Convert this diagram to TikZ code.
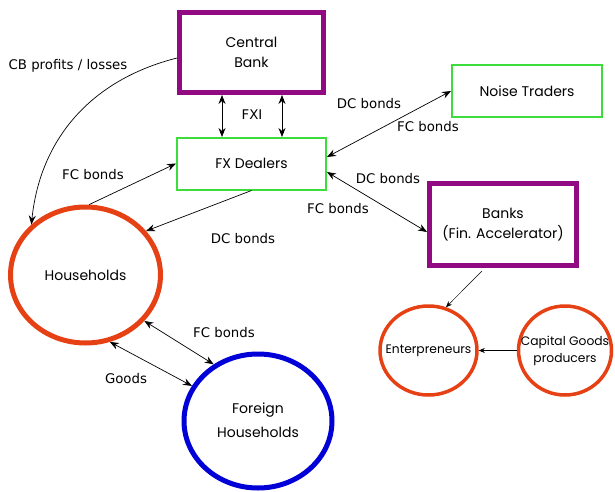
\documentclass[tikz,border=0pt]{standalone}
\usepackage{fontspec}
\setmainfont{DejaVu Sans}
\newfontfamily\nodefont{Poppins}
\usetikzlibrary{arrows.meta,shapes.geometric}
\definecolor{cbpurple}{RGB}{145,10,130}
\definecolor{fxgreen}{RGB}{60,220,60}
\definecolor{hhred}{RGB}{230,65,20}
\definecolor{fhblue}{RGB}{0,0,215}
\tikzset{
  purplebox/.style={draw=cbpurple,line width=5pt,minimum width=144pt,inner sep=0pt,align=center,font=\nodefont\fontsize{14}{20}\selectfont},
  greenbox/.style={draw=fxgreen,line width=2pt,minimum width=149pt,minimum height=52pt,inner sep=0pt,align=center,font=\nodefont\fontsize{14}{20}\selectfont},
  redcirc/.style={ellipse,draw=hhred,line width=5pt,inner sep=0pt,align=center,font=\nodefont\fontsize{14}{20}\selectfont},
  smallcirc/.style={ellipse,draw=hhred,line width=3.5pt,inner sep=0pt,align=center,font=\nodefont\fontsize{12.3}{17}\selectfont},
  bluecirc/.style={ellipse,draw=fhblue,line width=5pt,inner sep=0pt,align=center,font=\nodefont\fontsize{14}{22}\selectfont},
  conn/.style={line width=0.7pt,-{Stealth[length=9pt,width=7pt,inset=3pt]}},
  dconn/.style={line width=0.7pt,{Stealth[length=9pt,width=7pt,inset=3pt]}-{Stealth[length=9pt,width=7pt,inset=3pt]}},
  sconn/.style={line width=0.5pt,-{Stealth[length=6pt,width=5pt,inset=2pt]}},
  lbl/.style={font=\fontsize{13.3}{15}\selectfont,inner sep=0pt}
}
\begin{document}
\begin{tikzpicture}[x=1pt,y=-1pt]
\useasboundingbox (0,0) rectangle (615,492);
% nodes
\node[purplebox,minimum height=80pt] (cb) at (251.5,52.5) {Central\\Bank};
\node[greenbox] (fx) at (251.5,163.5) {FX Dealers};
\node[greenbox,minimum width=150pt] (nt) at (527,91) {Noise Traders};
\node[purplebox,minimum height=82pt,minimum width=147pt] (bk) at (503,224.5) {Banks\\(Fin. Accelerator)};
\node[redcirc,minimum width=150pt,minimum height=136pt] (hh) at (85.5,275) {\makebox[0pt]{Households}};
\node[bluecirc,minimum width=148pt,minimum height=134pt] (fh) at (258,421) {\makebox[0pt]{\raisebox{-3pt}{\begin{tabular}{@{}c@{}}Foreign\\[2pt]Households\end{tabular}}}};
\node[smallcirc,minimum width=97pt,minimum height=89pt] (en) at (428.5,350.5) {\makebox[0pt]{Enterpreneurs}};
\node[smallcirc,minimum width=93pt,minimum height=89pt] (cg) at (565,350.5) {\makebox[0pt]{\raisebox{-3pt}{\begin{tabular}{@{}c@{}}Capital Goods\\producers\end{tabular}}}};
% connectors
\draw[conn] (cb.west |- 0,58) .. controls (90,80) and (40,140) .. (hh.137);
\node[lbl] (lcb) at (68,66) {CB profits / losses};
\draw[dconn] (222,95) coordinate (a1) -- (222,137);
\draw[dconn] (282,95) -- (282,137);
\node[lbl] (lfxi) at (252,115) {FXI};
\draw[conn] (hh.87) -- (fx.west);
\node[lbl] (lfc1) at (93,175) {FC bonds};
\draw[conn] (fx.south) -- (hh.36);
\node[lbl] (ldc1) at (243,239) {DC bonds};
\draw[dconn] (fx.east |- 0,157) -- (nt.west);
\node[lbl] (ldc2) at (369,104) {DC bonds};
\node[lbl] (lfc2) at (428,127) {FC bonds};
\draw[dconn] (fx.east |- 0,172) -- (bk.west |- 0,232);
\node[lbl] (ldc3) at (388,179) {DC bonds};
\node[lbl] (lfc3) at (338,209) {FC bonds};
\draw[sconn] (bk.south west) ++(55,3) coordinate (bs) (bs) -- (en.68);
\draw[sconn] (cg.west) -- (en.east);
\draw[dconn] (hh.-38) -- (fh.128);
\node[lbl] (lfc4) at (224,333) {FC bonds};
\draw[dconn] (hh.-70) -- (fh.152);
\node[lbl] (lgd) at (126,379) {Goods};
\end{tikzpicture}
\end{document}
